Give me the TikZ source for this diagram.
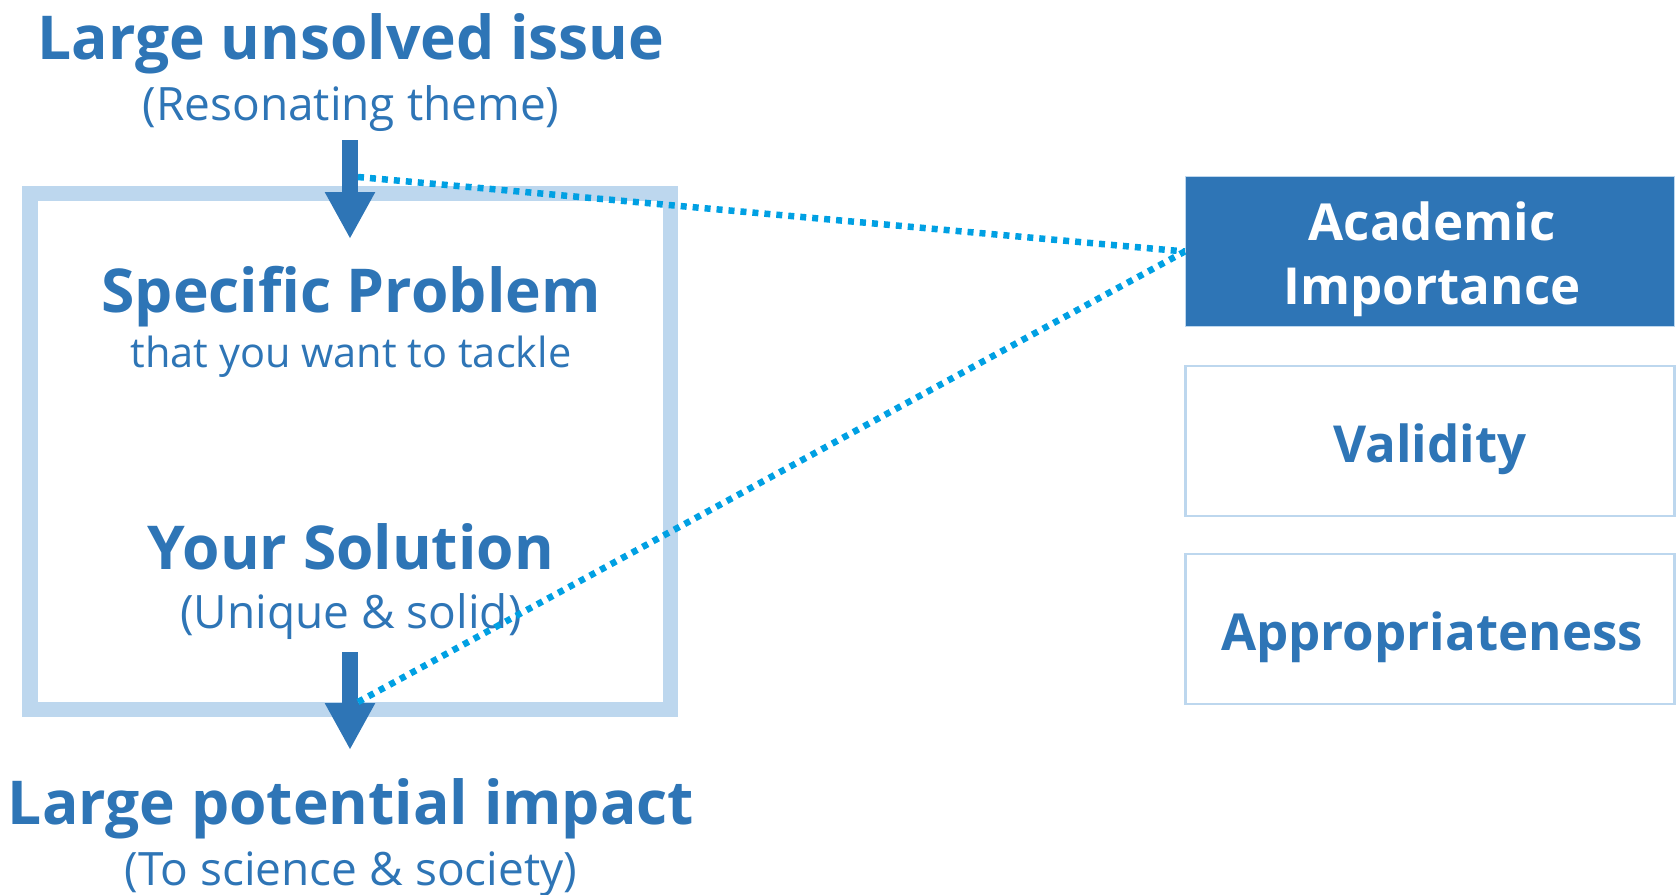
\documentclass[tikz,border=0pt]{standalone}
\usepackage{fontspec}
\setmainfont{Open Sans}
\usetikzlibrary{arrows.meta}
\definecolor{myblue}{HTML}{2E75B6}
\definecolor{framecol}{HTML}{BDD7EE}
\definecolor{dotcol}{HTML}{00A0E3}
\tikzset{
  head/.style={text=myblue,font=\bfseries\fontsize{60.5}{66}\selectfont,inner sep=0pt,anchor=base},
  sub/.style={text=myblue,font=\fontsize{46}{50}\selectfont,inner sep=0pt,anchor=base},
  subsmall/.style={text=myblue,font=\fontsize{41.5}{46}\selectfont,inner sep=0pt,anchor=base},
  boxtxt/.style={font=\bfseries\fontsize{51}{58}\selectfont,inner sep=0pt,anchor=base},
  critbox/.style={minimum width=489pt,minimum height=150pt,inner sep=0pt},
  bigarrow/.style={draw=myblue,line width=16pt,-{Triangle[width=47pt,length=47pt]}},
  dotline/.style={draw=dotcol,line width=6.5pt,dash pattern=on 6pt off 6pt},
}
\begin{document}
\begin{tikzpicture}[x=1pt,y=-1pt]
\useasboundingbox (0,0) rectangle (1678,894);
% frame
\draw[framecol,line width=15.5pt] (30,193.5) rectangle (670.5,709.5);
% texts
\node[head] (lui) at (351,59) {Large unsolved issue};
\node[sub] (rt) at (351,120) {(Resonating theme)};
\node[head] (sp) at (351,312.5) {Specific Problem};
\node[subsmall] (tyw) at (351,367) {that you want to tackle};
\node[head] (ys) at (351,569) {Your Solution};
\node[sub] (us) at (351,628) {(Unique \& solid)};
\node[head] (lpi) at (351,824) {Large potential impact};
\node[sub] (tss) at (351,885) {(To science \& society)};
% right boxes
\node[critbox,fill=myblue,draw=framecol,line width=1.5pt] (ai) at (1430,251.5) {};
\node[critbox,draw=framecol,line width=2.5pt] (val) at (1430,441) {};
\node[critbox,draw=framecol,line width=2.5pt] (app) at (1430,629) {};
\node[boxtxt,text=white] (ait1) at (1432,240) {Academic};
\node[boxtxt,text=white] (ait2) at (1432,304) {Importance};
\node[boxtxt,text=myblue] (valt) at (1430,462) {Validity};
\node[boxtxt,text=myblue] (appt) at (1432,650) {Appropriateness};
% arrows
\coordinate (a1s) at (350,140);
\coordinate (a1e) at (350,239);
\coordinate (a2s) at (350,652);
\coordinate (a2e) at (350,750);
\draw[bigarrow] (a1s) -- (a1e);
\draw[bigarrow] (a2s) -- (a2e);
% dotted connectors
\coordinate (d1) at (358,177);
\coordinate (d2) at (358,702);
\draw[dotline] (d1) -- (ai.west);
\draw[dotline] (d2) -- (ai.west);
\end{tikzpicture}
\end{document}
